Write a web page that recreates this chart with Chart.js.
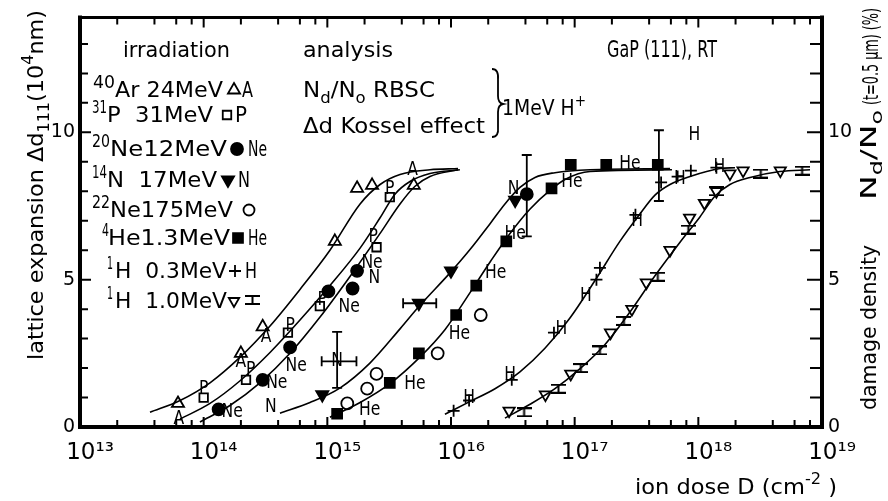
<!DOCTYPE html>
<html><head><meta charset="utf-8">
<script src="https://cdn.jsdelivr.net/npm/chart.js@4/dist/chart.umd.min.js"></script>
<style>html,body{margin:0;padding:0;background:#fff}canvas{display:block}</style>
</head><body><canvas id="c" width="888" height="501"></canvas>
<script>
// ---------- DATA (ion dose in cm^-2, lattice expansion / damage density) ----------
const xTickValues = [1e13,2e13,4e13,6e13,8e13,1e14,2e14,4e14,6e14,8e14,1e15,2e15,4e15,6e15,8e15,1e16,2e16,4e16,6e16,8e16,1e17,2e17,4e17,6e17,8e17,1e18,2e18,4e18,6e18,8e18,1e19];
const xMajorValues = [1e13,1e14,1e15,1e16,1e17,1e18,1e19];
const xMajorLabels = ['10¹³','10¹⁴','10¹⁵','10¹⁶','10¹⁷','10¹⁸','10¹⁹'];
const yLabelValues = [0,5,10];

const arDose = [6.2e13,2.0e14,3.0e14,1.15e15,1.74e15,2.3e15,5.0e15];
const arVal  = [0.8,2.5,3.4,6.3,8.1,8.2,8.2];
const pDose  = [1.0e14,2.2e14,4.8e14,8.7e14,2.5e15,3.2e15];
const pVal   = [1.0,1.6,3.2,4.1,6.1,7.8];
const ne20Dose = [1.32e14,3.0e14,5.0e14,1.02e15,1.6e15,1.74e15,4.1e16];
const ne20Val  = [0.6,1.6,2.7,4.6,4.7,5.3,7.9];
const nDose  = [9.1e14,5.5e15,1.0e16,3.3e16];
const nVal   = [1.1,4.2,5.3,7.7];
const ne22Dose = [1.45e15,2.1e15,2.5e15,7.8e15,1.74e16];
const ne22Val  = [0.8,1.3,1.8,2.5,3.8];
const heDose = [1.2e15,3.2e15,5.5e15,1.1e16,1.6e16,2.8e16,6.5e16,9.3e16,1.8e17,4.7e17];
const heVal  = [0.45,1.5,2.5,3.8,4.8,6.3,8.1,8.9,8.9,8.9];
const h03Dose = [1.05e16,1.4e16,3.1e16,6.8e16,1.5e17,1.6e17,3.1e17,5.0e17,6.8e17,8.7e17,1.4e18];
const h03Val  = [0.55,0.9,1.6,3.2,5.0,5.4,7.2,8.3,8.5,8.7,8.8];
const h10Dose = [2.95e16,5.8e16,9.3e16,1.95e17,2.9e17,3.8e17,5.9e17,8.5e17,1.12e18,1.4e18,1.8e18,2.3e18,4.6e18];
const h10Val  = [0.55,1.1,1.8,3.2,4.0,4.9,6.0,7.1,7.6,8.0,8.6,8.7,8.7];
const kosselDose = [3.9e16,7.4e16,1.12e17,1.6e17,2.5e17,4.7e17,8.3e17,1.4e18,3.2e18,6.9e18];
const kosselVal  = [0.5,1.3,2.0,2.6,3.6,5.1,6.7,8.0,8.6,8.7];

// fitted curves
const arFitDose = [3.68e13,6.44e13,1.125e14,1.97e14,3.44e14,6.01e14,1.05e15,1.84e15,2.67e15,3.87e15,6.76e15,1.14e16];
const arFitVal  = [0.5,0.9,1.5,2.37,3.43,4.67,6.0,7.57,8.23,8.57,8.73,8.77];
const pFitDose = [6.44e13,1.125e14,1.97e14,3.44e14,6.01e14,1.05e15,1.84e15,2.67e15,3.52e15,4.66e15,6.76e15,1.18e16];
const pFitVal  = [0.27,0.8,1.57,2.53,3.63,4.8,6.07,7.1,7.9,8.33,8.6,8.73];
const neFitDose = [9.33e13,1.63e14,2.85e14,4.99e14,8.73e14,1.52e15,2.67e15,3.87e15,5.12e15,6.76e15,1.14e16];
const neFitVal  = [0.17,0.73,1.5,2.5,3.73,5.1,6.57,7.57,8.17,8.5,8.73];
const nFitDose = [4.14e14,7.24e14,1.27e15,2.21e15,3.87e15,5.61e15,9.82e15,1.43e16,2.07e16,2.73e16,3.61e16,4.78e16,6.93e16,1.33e17,5.9e17];
const nFitVal  = [0.47,0.83,1.33,2.17,3.33,4.13,5.23,6.03,6.9,7.57,8.13,8.47,8.63,8.73,8.77];
const heFitDose = [1.05e15,1.84e15,3.21e15,5.61e15,8.93e15,1.43e16,2.07e16,3.0e16,4.36e16,6.31e16,8.35e16,1.33e17,6.12e17];
const heFitVal  = [0.33,0.83,1.47,2.37,3.3,4.57,5.6,6.57,7.4,8.03,8.4,8.67,8.73];
const h03FitDose = [8.93e15,1.43e16,2.27e16,3.61e16,5.75e16,9.16e16,1.46e17,2.32e17,3.37e17,4.46e17,5.9e17,8.56e17,1.5e18,1.98e18];
const h03FitVal  = [0.43,0.87,1.3,1.87,2.67,3.7,4.97,6.3,7.23,7.87,8.23,8.5,8.77,8.8];
const h10FitDose = [2.73e16,4.36e16,6.93e16,1.10e17,1.76e17,2.80e17,4.46e17,7.11e17,1.03e18,1.36e18,1.80e18,2.62e18,4.57e18,8.0e18];
const h10FitVal  = [0.3,0.77,1.3,1.97,2.8,3.9,5.13,6.27,7.13,7.83,8.23,8.47,8.67,8.73];

// error bars: [dose, value, doseLow, doseHigh, valueLow, valueHigh]
const errorBars = [
  [1.2e15,2.23,9.0e14,1.72e15,1.33,3.23],
  [5.5e15,4.2,4.1e15,7.6e15,null,null],
  [4.1e16,7.9,null,null,6.47,9.23],
  [4.8e17,8.9,null,null,7.67,10.07]
];
// letters written next to the points: [text, dose, value]
const pointLabels = [
  ['A',6.3e13,0.33],['A',2.0e14,2.27],['A',3.2e14,3.13],['A',4.9e15,8.8],
  ['P',1.0e14,1.35],['P',2.4e14,2.0],['P',5.0e14,3.5],['P',9.1e14,4.37],['P',2.35e15,6.5],['P',3.2e15,8.13],
  ['Ne',1.7e14,0.57],['Ne',3.9e14,1.57],['Ne',5.6e14,2.13],['Ne',1.5e15,4.13],['Ne',2.3e15,5.63],
  ['N',3.5e14,0.73],['N',1.2e15,2.3],['N',2.4e15,5.13],['N',3.2e16,8.13],
  ['He',2.2e15,0.63],['He',5.1e15,1.53],['He',1.17e16,3.23],['He',2.3e16,5.3],['He',3.3e16,6.63],['He',9.5e16,8.37],['He',2.8e17,9.0],
  ['H',1.4e16,1.05],['H',3.0e16,1.83],['H',7.8e16,3.4],['H',1.23e17,4.5],['H',3.2e17,7.07],['H',7.1e17,8.5],['H',1.48e18,8.9],['H',9.3e17,9.97]
];

// legend rows (irradiation)
const legIso = ['40','31','20','14','22','4','1','1'];
const legIon = ['Ar 24MeV','P  31MeV','Ne12MeV','N  17MeV','Ne175MeV','He1.3MeV','H  0.3MeV','H  1.0MeV'];
const legTag = ['A','P','Ne','N','','He','H',''];

// ---------- helpers ----------
const toPts = (xs, ys) => xs.map((x, i) => ({x: x, y: ys[i]}));
const BASE = '"DejaVu Sans", sans-serif';

function ibeam(w, h, lw) {
  const c = document.createElement('canvas'); c.width = w; c.height = h;
  const g = c.getContext('2d'); g.strokeStyle = '#000'; g.lineWidth = lw;
  g.beginPath();
  g.moveTo(0, lw/2); g.lineTo(w, lw/2);
  g.moveTo(0, h-lw/2); g.lineTo(w, h-lw/2);
  g.moveTo(w/2, 0); g.lineTo(w/2, h);
  g.stroke();
  return c;
}
const IBEAM = ibeam(15, 10, 2);

function fitText(ctx, txt, x, y, w, size) {
  ctx.font = size + 'px ' + BASE;
  const nat = ctx.measureText(txt).width;
  const k = w ? w / nat : 0.8;
  ctx.save(); ctx.translate(x, y); ctx.scale(k, 1);
  ctx.textAlign = 'left'; ctx.textBaseline = 'alphabetic';
  ctx.fillText(txt, 0, 0); ctx.restore();
}
// parts: [text, kind] kind 0 normal, 1 subscript, 2 superscript
function richText(ctx, parts, x, y, w, size, rot) {
  const meas = p => { ctx.font = (p[1] ? size*0.72 : size) + 'px ' + BASE; return ctx.measureText(p[0]).width; };
  let nat = 0; parts.forEach(p => nat += meas(p));
  const k = w / nat;
  ctx.save(); ctx.translate(x, y); if (rot) ctx.rotate(rot); ctx.scale(k, 1);
  ctx.textAlign = 'left'; ctx.textBaseline = 'alphabetic';
  let cx = 0;
  parts.forEach(p => {
    const wd = meas(p);
    const dy = p[1] === 1 ? size*0.28 : (p[1] === 2 ? -size*0.45 : 0);
    ctx.fillText(p[0], cx, dy); cx += wd;
  });
  ctx.restore();
}
function marker(ctx, style, cx, cy, r, filled, rot) {
  ctx.save();
  ctx.lineWidth = 1.8; ctx.strokeStyle = '#000'; ctx.fillStyle = filled ? '#000' : '#fff';
  if (Chart.helpers && Chart.helpers.drawPoint) {
    Chart.helpers.drawPoint(ctx, {pointStyle: style, radius: r, rotation: rot || 0, borderWidth: 1.8}, cx, cy);
  }
  ctx.restore();
}

// ---------- plugins ----------
const framePlugin = {
  id: 'frame',
  afterDraw(chart) {
    const {ctx, chartArea: a} = chart;
    const xs = chart.scales.x, ys = chart.scales.y;
    ctx.save();
    ctx.strokeStyle = '#000';
    ctx.lineCap = 'square';
    ctx.lineWidth = 4;
    ctx.beginPath();
    ctx.moveTo(a.left, a.top); ctx.lineTo(a.left, a.bottom); ctx.lineTo(a.right, a.bottom); ctx.lineTo(a.right, a.top);
    ctx.stroke();
    ctx.lineWidth = 3;
    ctx.beginPath(); ctx.moveTo(a.left, a.top); ctx.lineTo(a.right, a.top); ctx.stroke();
    ctx.lineCap = 'butt';
    ctx.lineWidth = 2;
    ctx.beginPath();
    xTickValues.forEach(v => {
      const px = xs.getPixelForValue(v);
      const major = xMajorValues.includes(v);
      const len = major ? 10 : 7;
      ctx.moveTo(px, a.bottom); ctx.lineTo(px, a.bottom - len);
      ctx.moveTo(px, a.top); ctx.lineTo(px, a.top + len);
    });
    for (let v = 0; v <= 13; v++) {
      const py = ys.getPixelForValue(v);
      const len = v % 5 === 0 ? 11 : 8;
      ctx.moveTo(a.left, py); ctx.lineTo(a.left + len, py);
      ctx.moveTo(a.right, py); ctx.lineTo(a.right - len - 4, py);
    }
    ctx.stroke();
    ctx.restore();
  }
};

const errorPlugin = {
  id: 'errbars',
  afterDatasetsDraw(chart) {
    const {ctx} = chart; const xs = chart.scales.x, ys = chart.scales.y;
    ctx.save(); ctx.strokeStyle = '#000'; ctx.lineWidth = 1.8; ctx.beginPath();
    errorBars.forEach(e => {
      const px = xs.getPixelForValue(e[0]), py = ys.getPixelForValue(e[1]);
      if (e[2] !== null) {
        const l = xs.getPixelForValue(e[2]), r = xs.getPixelForValue(e[3]);
        ctx.moveTo(l, py); ctx.lineTo(r, py);
        ctx.moveTo(l, py - 5); ctx.lineTo(l, py + 5);
        ctx.moveTo(r, py - 5); ctx.lineTo(r, py + 5);
      }
      if (e[4] !== null) {
        const b = ys.getPixelForValue(e[4]), t = ys.getPixelForValue(e[5]);
        ctx.moveTo(px, b); ctx.lineTo(px, t);
        ctx.moveTo(px - 5, b); ctx.lineTo(px + 5, b);
        ctx.moveTo(px - 5, t); ctx.lineTo(px + 5, t);
      }
    });
    ctx.stroke(); ctx.restore();
  }
};

const textPlugin = {
  id: 'texts',
  afterDraw(chart) {
    const {ctx} = chart; const xs = chart.scales.x, ys = chart.scales.y;
    ctx.save(); ctx.fillStyle = '#000';
    // point letters
    pointLabels.forEach(l => {
      const px = xs.getPixelForValue(l[1]), py = ys.getPixelForValue(l[2]);
      ctx.font = '20px ' + BASE;
      const w = ctx.measureText(l[0]).width * 0.78;
      fitText(ctx, l[0], px - w/2, py + 7, w, 20);
    });
    // legend block
    fitText(ctx, 'irradiation', 123, 57, 107, 21);
    const rowY = [97,122,156,187,217,245,278,308];
    const isoX = [93,92,92,92,92,102,107,107];
    const isoW = [22,15,18,15,18,7,6,6];
    const ionX = [115,107,110,107,110,108,115,115];
    const ionW = [108,106,117,110,123,122,112,112];
    const mk = [['triangle',7,false,0,234],['rect',6,false,0,227],['circle',6,true,0,237],['triangle',7,true,180,228],
                ['circle',5.5,false,0,249],['rect',7,true,0,238],['cross',6,false,0,235],['triangle',6,false,180,234]];
    const tagX = [242,235,248,238,0,248,245,0];
    const tagW = [11,12,19,12,0,19,12,0];
    for (let i = 0; i < 8; i++) {
      const y = rowY[i];
      fitText(ctx, legIso[i], isoX[i], y - 9, isoW[i], 18);
      fitText(ctx, legIon[i], ionX[i], y, ionW[i], 21);
      marker(ctx, mk[i][0], mk[i][4], y - 7, mk[i][1], mk[i][2], mk[i][3]);
      if (legTag[i]) fitText(ctx, legTag[i], tagX[i], y, tagW[i], 21);
    }
    ctx.drawImage(IBEAM, 245, 295);
    // analysis block
    fitText(ctx, 'analysis', 303, 57, 90, 21);
    richText(ctx, [['N',0],['d',1],['/N',0],['o',1],[' RBSC',0]], 303, 97, 132, 21);
    richText(ctx, [['Δd Kossel effect',0]], 303, 133, 182, 21);
    ctx.lineWidth = 1.8; ctx.strokeStyle = '#000';
    ctx.beginPath();
    ctx.moveTo(492, 69); ctx.quadraticCurveTo(499, 69, 498, 80);
    ctx.lineTo(498, 96); ctx.quadraticCurveTo(498, 103, 503, 104);
    ctx.quadraticCurveTo(498, 105, 498, 112);
    ctx.lineTo(498, 127); ctx.quadraticCurveTo(499, 137, 492, 137);
    ctx.stroke();
    richText(ctx, [['1MeV H',0],['+',2]], 502, 115, 84, 21);
    fitText(ctx, 'GaP (111), RT', 607, 57, 110, 23);
    // axis titles
    richText(ctx, [['lattice expansion Δd',0],['111',1],['(10',0],['4',2],['nm)',0]], 43, 360, 350, 22, -Math.PI/2);
    richText(ctx, [['damage density',0]], 876, 410, 165, 22, -Math.PI/2);
    richText(ctx, [['N',0],['d',1],['/N',0],['o',1]], 876, 200, 90, 22, -Math.PI/2);
    richText(ctx, [['(t=0.5 µm) (%)',0]], 878, 105, 97, 22, -Math.PI/2);
    richText(ctx, [['ion dose D (cm',0],['-2',2],[' )',0]], 635, 494, 202, 22);
    ctx.restore();
  }
};

// ---------- chart ----------
const blk = '#000';
const scatterDs = (label, xs, ys, style, r, filled, rot) => ({
  label, data: toPts(xs, ys), pointStyle: style, pointRadius: r, pointRotation: rot || 0,
  pointBorderWidth: 1.8, pointBorderColor: blk, pointBackgroundColor: filled ? blk : '#fff', showLine: false
});
const fitDs = (label, xs, ys) => ({
  label, data: toPts(xs, ys), showLine: true, pointRadius: 0, borderColor: blk, borderWidth: 1.6,
  cubicInterpolationMode: 'monotone', fill: false
});

new Chart(document.getElementById('c'), {
  type: 'scatter',
  data: { datasets: [
    fitDs('Ar fit', arFitDose, arFitVal),
    fitDs('P fit', pFitDose, pFitVal),
    fitDs('Ne fit', neFitDose, neFitVal),
    fitDs('N fit', nFitDose, nFitVal),
    fitDs('He fit', heFitDose, heFitVal),
    fitDs('H 0.3 fit', h03FitDose, h03FitVal),
    fitDs('H 1.0 fit', h10FitDose, h10FitVal),
    scatterDs('40Ar 24MeV', arDose, arVal, 'triangle', 7, false),
    scatterDs('31P 31MeV', pDose, pVal, 'rect', 6, false),
    scatterDs('20Ne 12MeV', ne20Dose, ne20Val, 'circle', 6, true),
    scatterDs('14N 17MeV', nDose, nVal, 'triangle', 7, true, 180),
    scatterDs('22Ne 175MeV', ne22Dose, ne22Val, 'circle', 6, false),
    scatterDs('4He 1.3MeV', heDose, heVal, 'rect', 7, true),
    scatterDs('1H 0.3MeV', h03Dose, h03Val, 'cross', 6, false),
    scatterDs('1H 1.0MeV RBS', h10Dose, h10Val, 'triangle', 6.5, false, 180),
    Object.assign(scatterDs('1H 1.0MeV Kossel', kosselDose, kosselVal, IBEAM, 7, false), {pointStyle: IBEAM})
  ]},
  options: {
    responsive: false, animation: false, devicePixelRatio: 1,
    layout: {padding: {top: 10, left: 0, right: 0, bottom: 0}},
    plugins: {legend: {display: false}, tooltip: {enabled: false}},
    scales: {
      x: {
        type: 'logarithmic', min: 1e13, max: 1e19, position: 'bottom',
        grid: {display: false, drawTicks: false}, border: {display: false},
        afterBuildTicks: s => { s.ticks = xTickValues.map(v => ({value: v})); },
        afterFit: s => { s.height = 74; },
        ticks: {
          autoSkip: false, maxRotation: 0, minRotation: 0, padding: 12, labelOffset: 10, color: blk,
          font: {family: '"DejaVu Sans"', size: 23},
          callback: v => { const i = xMajorValues.indexOf(v); return i >= 0 ? xMajorLabels[i] : ''; }
        }
      },
      y: {
        type: 'linear', min: 0, max: 13.9, position: 'left',
        grid: {display: false, drawTicks: false}, border: {display: false},
        afterFit: s => { s.width = 80; },
        ticks: {
          stepSize: 1, includeBounds: false, padding: 5, color: blk,
          font: {family: '"DejaVu Sans"', size: 19},
          callback: v => yLabelValues.includes(v) ? String(v) : ''
        }
      },
      y2: {
        type: 'linear', min: 0, max: 13.9, position: 'right',
        grid: {display: false, drawTicks: false}, border: {display: false},
        afterFit: s => { s.width = 66; },
        ticks: {
          stepSize: 1, includeBounds: false, padding: 6, color: blk,
          font: {family: '"DejaVu Sans"', size: 19},
          callback: v => yLabelValues.includes(v) ? String(v) : ''
        }
      }
    }
  },
  plugins: [framePlugin, errorPlugin, textPlugin]
});
</script></body></html>
